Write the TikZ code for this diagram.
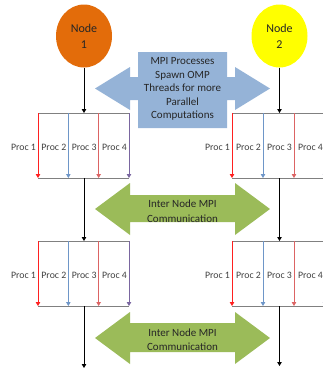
\documentclass[tikz,border=0pt]{standalone}
\usepackage{fontspec}
\setmainfont{Carlito}
\usetikzlibrary{shapes.geometric,arrows.meta}
\definecolor{nodeorange}{HTML}{E36C0A}
\definecolor{nodeyellow}{HTML}{FFFF00}
\definecolor{callblue}{HTML}{95B3D7}
\definecolor{callgreen}{HTML}{9BBB59}
\definecolor{pone}{HTML}{FF2020}
\definecolor{ptwo}{HTML}{6E96C8}
\definecolor{pthree}{HTML}{DC6464}
\definecolor{pfour}{HTML}{7A66A0}
\definecolor{boxgray}{HTML}{808080}
\definecolor{txtdark}{HTML}{262626}
\definecolor{lblgray}{HTML}{404040}
\tikzset{
  tipend/.style={-{Triangle[width=4.5pt,length=4pt]}},
  nodeell/.style={ellipse, inner sep=0pt, minimum width=56pt, minimum height=63pt,
    align=center, font=\fontsize{12}{16}\selectfont, text=txtdark},
  flow/.style={draw=black, line width=0.8pt, tipend},
  procline/.style={line width=0.8pt, tipend},
  boxline/.style={draw=boxgray, line width=0.8pt},
  proclbl/.style={inner sep=0pt, text=lblgray, font=\fontsize{9.8}{11}\selectfont},
  calltext/.style={align=center, inner sep=0pt, text=txtdark, font=\fontsize{11}{13.4}\selectfont},
  greentext/.style={align=center, inner sep=0pt, text=txtdark, font=\fontsize{11}{14.5}\selectfont},
}
\begin{document}
\begin{tikzpicture}[x=1pt,y=-1pt]
\useasboundingbox (0,0) rectangle (323,370);
\clip (0,0) rectangle (323,370);

% nodes
\node[nodeell, fill=nodeorange] (n1) at (84,36) {Node\\1};
\node[nodeell, fill=nodeyellow] (n2) at (279.5,36) {Node\\2};

% blue callout double arrow
\fill[callblue] (95,88.5) -- (130,67) -- (130,77) -- (138,77) -- (138,52) -- (227,52)
  -- (227,77) -- (235,77) -- (235,67) -- (270,88.5) -- (235,110) -- (235,100)
  -- (227,100) -- (227,128) -- (138,128) -- (138,100) -- (130,100) -- (130,110) -- cycle;
\node[calltext] (mpitext) at (182.5,89) {MPI Processes\\Spawn OMP\\Threads for more\\Parallel\\Computations};

% green double arrows
\fill[callgreen] (95,209) -- (130,183) -- (130,195) -- (235,195) -- (235,183) -- (270,209)
  -- (235,235) -- (235,222) -- (130,222) -- (130,235) -- cycle;
\node[greentext] (comm1) at (182.5,211) {Inter Node MPI\\Communication};
\fill[callgreen] (95,338) -- (130,312) -- (130,323) -- (235,323) -- (235,312) -- (270,338)
  -- (235,364) -- (235,352) -- (130,352) -- (130,364) -- cycle;
\node[greentext] (comm2) at (182.5,339.5) {Inter Node MPI\\Communication};

% processor boxes
\foreach \bx/\sp/\ty/\by/\nm/\xe in {38/30.33/113/178/a/129, 232/31/113/178/b/323,
                                     38/30.33/241/306/c/129, 232/31/241/306/d/323} {
  \coordinate (\nm tl) at (\bx,\ty);
  \coordinate (\nm tr) at (\xe,\ty);
  \coordinate (\nm bl) at (\bx,\by);
  \coordinate (\nm br) at (\xe,\by);
  \draw[boxline] (\nm tl) -- (\nm tr);
  \draw[boxline] (\nm bl) -- (\nm br);
  \foreach \i/\k/\col in {0/1/pone, 1/2/ptwo, 2/3/pthree, 3/4/pfour} {
    \coordinate (\nm t\k) at ({\bx+\i*\sp},\ty);
    \coordinate (\nm b\k) at ({\bx+\i*\sp},\by);
    \draw[procline, draw=\col, -{Triangle[width=4.5pt,length=4pt,fill=\col]}] (\nm t\k) -- (\nm b\k);
    \node[proclbl] (\nm l\k) at ({\bx+\i*\sp-14.5},{(\ty+\by)/2+2}) {Proc \k};
  }
}

% flow connectors
\coordinate (atop) at (84,113);
\coordinate (abot) at (84,178);
\coordinate (ctop) at (84,241);
\coordinate (cbot) at (84,306);
\coordinate (lend) at (84,368);
\coordinate (btop) at (279.5,113);
\coordinate (bbot) at (279.5,178);
\coordinate (dtop) at (279.5,241);
\coordinate (dbot) at (279.5,306);
\coordinate (rend) at (279.5,366);
\draw[flow] (n1.south) -- (atop);
\draw[flow] (abot) -- (ctop);
\draw[flow] (cbot) -- (lend);
\draw[flow] (n2.south) -- (btop);
\draw[flow] (bbot) -- (dtop);
\draw[flow] (dbot) -- (rend);
\end{tikzpicture}
\end{document}
